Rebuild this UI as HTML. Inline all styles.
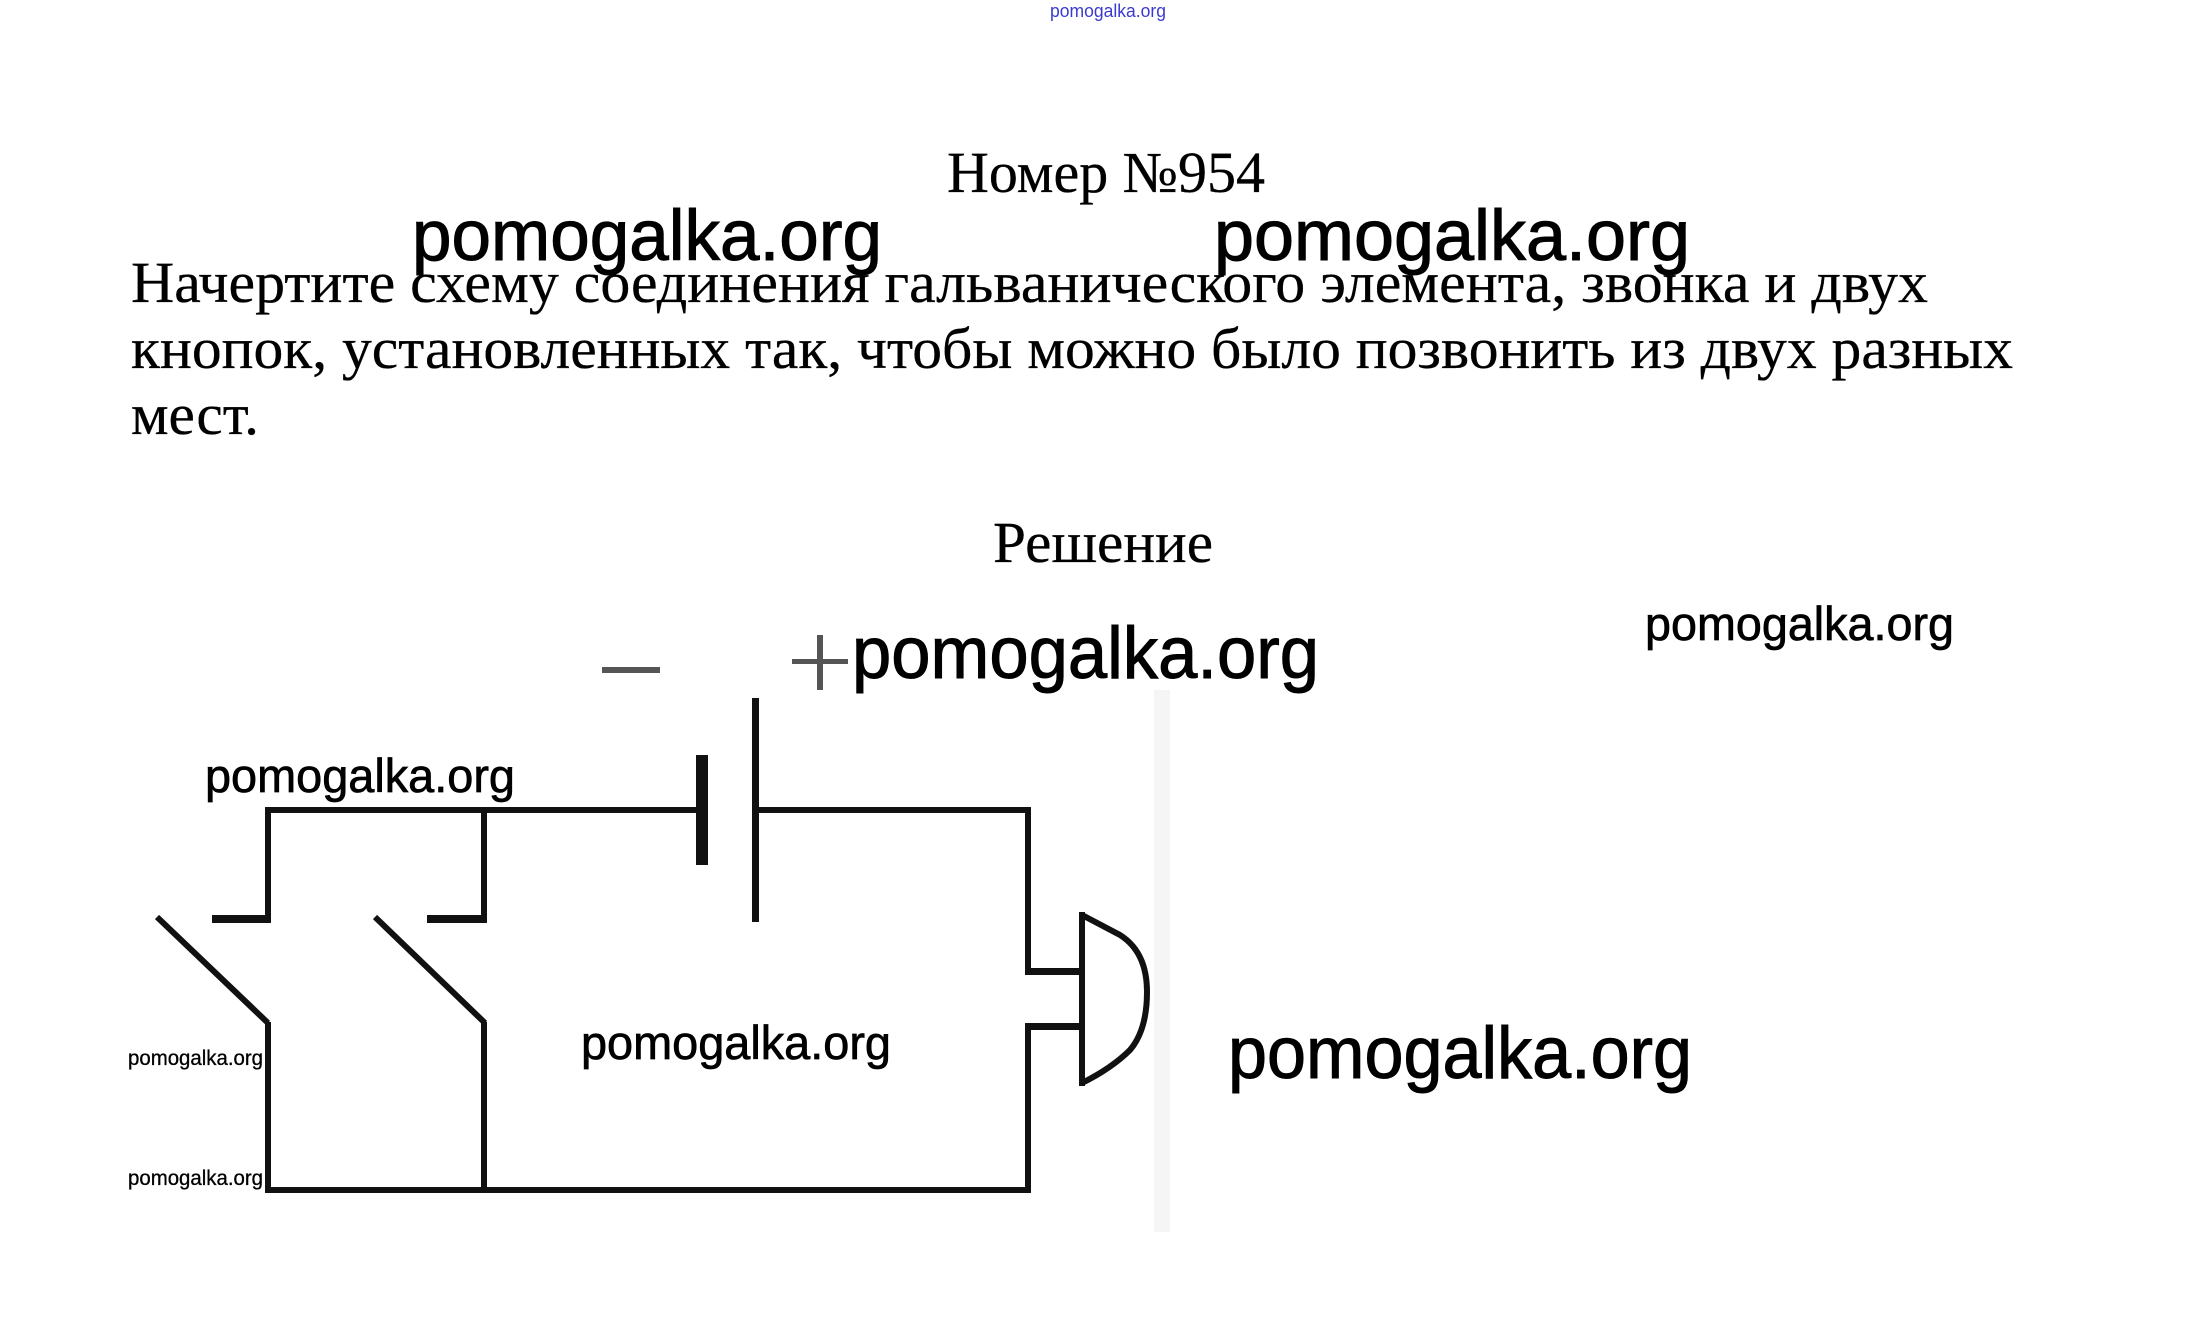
<!DOCTYPE html>
<html><head><meta charset="utf-8">
<style>
html,body{margin:0;padding:0;background:#fff;}
svg{display:block;}
.serif{font-family:"Liberation Serif","Noto Serif CJK SC",serif;fill:#000;stroke:#000;stroke-width:0.3;}
.wm{font-family:"Liberation Sans","DejaVu Sans",sans-serif;fill:#000;stroke:#000;}
</style></head>
<body>
<svg width="2211" height="1324" viewBox="0 0 2211 1324" xmlns="http://www.w3.org/2000/svg">
<rect width="2211" height="1324" fill="#fff"/>

<!-- top blue watermark -->
<text x="1050" y="17" font-family="Liberation Sans, sans-serif" font-size="18" fill="#3a3ad0" textLength="116" lengthAdjust="spacingAndGlyphs">pomogalka.org</text>

<!-- heading -->
<text class="serif" x="947" y="192" font-size="58" textLength="318" lengthAdjust="spacingAndGlyphs">Номер №954</text>

<!-- paragraph -->
<text class="serif" x="131" y="302" font-size="58" textLength="1797" lengthAdjust="spacingAndGlyphs">Начертите схему соединения гальванического элемента, звонка и двух</text>
<text class="serif" x="131" y="368" font-size="58" textLength="1882" lengthAdjust="spacingAndGlyphs">кнопок, установленных так, чтобы можно было позвонить из двух разных</text>
<text class="serif" x="131" y="434" font-size="58" textLength="128" lengthAdjust="spacingAndGlyphs">мест.</text>

<!-- big watermarks top -->
<text class="wm" x="412" y="260" font-size="71" stroke-width="1" textLength="470" lengthAdjust="spacingAndGlyphs">pomogalka.org</text>
<text class="wm" x="1214" y="260" font-size="71" stroke-width="1" textLength="476" lengthAdjust="spacingAndGlyphs">pomogalka.org</text>

<!-- solution heading -->
<text class="serif" x="993" y="562" font-size="58" textLength="220" lengthAdjust="spacingAndGlyphs">Решение</text>

<!-- right watermark -->
<text class="wm" x="1645" y="640" font-size="47" stroke-width="0.7" textLength="309" lengthAdjust="spacingAndGlyphs">pomogalka.org</text>

<!-- minus / plus -->
<rect x="602" y="667" width="58" height="6" fill="#555"/>
<rect x="792" y="659" width="56" height="5" fill="#555"/>
<rect x="817" y="635" width="6" height="55" fill="#555"/>

<!-- +pomogalka.org -->
<text class="wm" x="852" y="678" font-size="73" stroke-width="1" textLength="467" lengthAdjust="spacingAndGlyphs">pomogalka.org</text>

<!-- light grey bar -->
<rect x="1154" y="690" width="16" height="542" fill="#f5f5f5"/>

<!-- circuit -->
<g stroke="#111" stroke-width="6" fill="none" stroke-linecap="butt">
  <path d="M265 810 H697"/>
  <path d="M759 810 H1031"/>
  <path d="M268 807 V923"/>
  <path d="M484 807 V923"/>
  <path d="M157 917 L268 1023"/>
  <path d="M375 917 L485 1023"/>
  <path d="M268 1022 V1193"/>
  <path d="M484 1022 V1193"/>
  <path d="M265 1190 H1031"/>
  <path d="M1028 807 V975"/>
  <path d="M1028 1024 V1193"/>
  <path d="M1082 912 V1086"/>
  <path d="M1082 915 L1120 935 Q1147 952 1147 992 Q1147 1030 1130 1050 Q1112 1068 1082 1083"/>
</g>
<g fill="#111">
  <rect x="212" y="915" width="59" height="8"/>
  <rect x="427" y="915" width="60" height="8"/>
  <rect x="1025" y="968" width="57" height="7"/>
  <rect x="1025" y="1023" width="57" height="7"/>
  <rect x="696" y="755" width="12" height="110"/>
  <rect x="752" y="698" width="7" height="224"/>
</g>

<!-- circuit watermarks -->
<text class="wm" x="205" y="792" font-size="47" stroke-width="0.7" textLength="310" lengthAdjust="spacingAndGlyphs">pomogalka.org</text>
<text class="wm" x="581" y="1059" font-size="47" stroke-width="0.7" textLength="310" lengthAdjust="spacingAndGlyphs">pomogalka.org</text>
<text class="wm" x="128" y="1065" font-size="21" stroke-width="0.3" textLength="135" lengthAdjust="spacingAndGlyphs">pomogalka.org</text>
<text class="wm" x="128" y="1185" font-size="21" stroke-width="0.3" textLength="135" lengthAdjust="spacingAndGlyphs">pomogalka.org</text>
<text class="wm" x="1228" y="1078" font-size="73" stroke-width="1" textLength="464" lengthAdjust="spacingAndGlyphs">pomogalka.org</text>
</svg>
</body></html>
